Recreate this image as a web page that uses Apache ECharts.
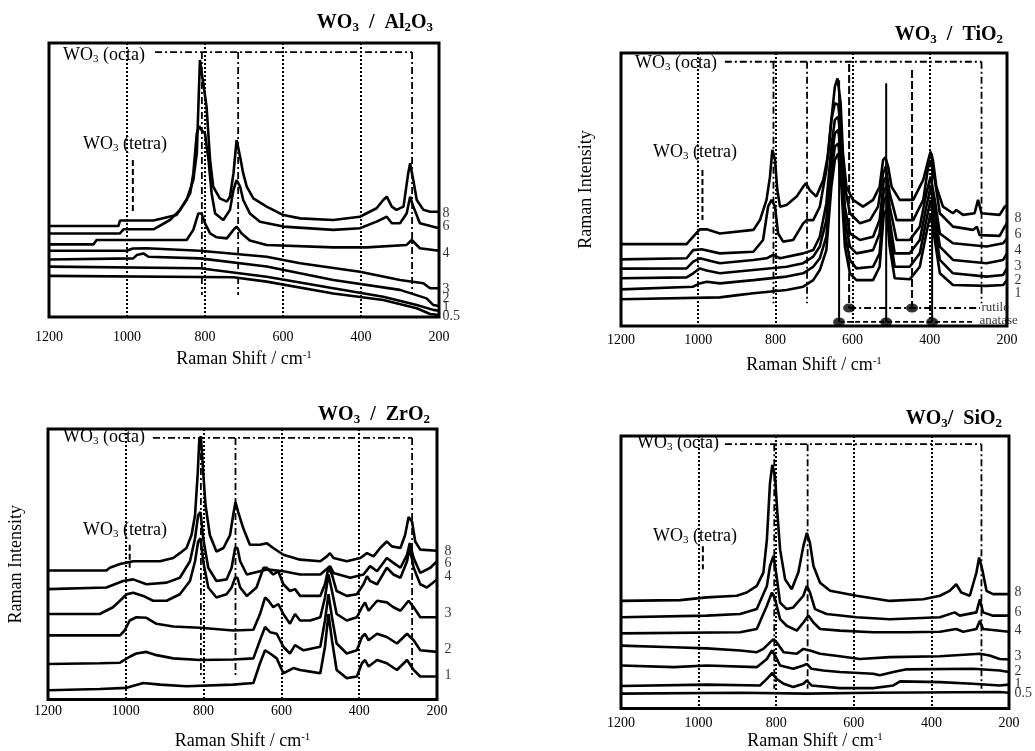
<!DOCTYPE html>
<html><head><meta charset="utf-8">
<script src="https://cdn.jsdelivr.net/npm/echarts@6/dist/echarts.min.js"></script>
<style>html,body{margin:0;padding:0;background:#fff}#c{width:1035px;height:751px}</style>
</head><body><div id="c"></div>
<script>
// ---------- data (Raman shift cm-1, relative intensity 0-100) ----------
const xTicks = [1200, 1000, 800, 600, 400, 200];

// WO3 / Al2O3
const al8 = [[1200,33.2],[1022,33.2],[1018,35.2],[932,35.2],[873,37.2],[847,42.7],[830,50.0],[821,59.7],[813,93.8],[809,94.4],[796,76.8],[787,57.3],[779,47.6],[762,43.3],[744,42.1],[736,43.9],[727,52.4],[719,64.6],[715,64.6],[710,58.5],[702,52.4],[693,47.6],[676,43.3],[642,40.3],[599,37.2],[556,36.0],[471,35.4],[403,36.6],[360,39.7],[343,42.7],[334,43.9],[321,40.3],[309,39.1],[291,40.3],[279,52.4],[274,56.1],[266,50.0],[257,42.7],[240,39.1],[223,38.4],[200,38.4]];
const al6 = [[1200,30.5],[1018,30.5],[1009,32.0],[932,32.0],[890,35.4],[864,39.1],[838,45.1],[830,52.4],[821,67.0],[815,69.7],[809,68.2],[800,67.0],[791,57.3],[783,45.1],[774,37.8],[753,35.4],[736,39.1],[727,46.4],[719,50.0],[710,47.6],[702,42.7],[685,37.8],[659,34.8],[599,33.0],[471,31.8],[403,32.4],[360,34.8],[334,36.6],[321,34.2],[300,34.2],[283,37.8],[274,43.9],[266,40.3],[249,34.2],[200,32.4]];
const al4 = [[1200,26.5],[1086,26.5],[1078,28.1],[847,28.1],[830,31.8],[817,37.8],[809,37.8],[800,34.2],[787,30.5],[770,29.1],[744,28.7],[727,31.8],[719,33.0],[706,30.5],[685,27.9],[642,26.3],[471,25.4],[385,25.4],[283,26.3],[270,28.1],[249,25.1],[200,24.2]];
const al3 = [[1200,24.2],[1001,24.2],[985,25.0],[950,25.1],[813,24.2],[642,22.0],[556,19.6],[403,16.5],[300,13.5],[240,12.3],[223,10.5],[200,10.5]];
const al2 = [[1200,21.0],[984,21.4],[975,22.6],[958,23.2],[945,22.0],[813,21.4],[642,18.4],[471,13.5],[300,9.9],[232,6.8],[215,4.4],[200,4.0]];
const al1 = [[1200,18.4],[813,17.8],[642,14.7],[471,10.5],[343,7.4],[257,4.4],[215,2.6],[200,2.3]];
const al05 = [[1200,15.0],[727,14.5],[642,12.9],[471,8.6],[343,6.2],[257,3.2],[223,1.1],[200,0.7]];
const alLabels = ['8','6','4','3','2','1','0.5'];
const alLabelY = [38.0, 33.2, 23.4, 10.2, 6.9, 3.6, 0.4];
const alOctaH = [[928,96.7],[269,96.7]];
const alOctaV = [808, 715, 269];
const alOctaRange = [96.7, 8.0];
const alTetraV = [985];
const alTetraRange = [57.3, 38.4];

// WO3 / TiO2
const ti8 = [[1200,30.0],[1030,30.0],[1013,32.7],[996,35.4],[978,35.4],[944,33.9],[857,35.2],[840,38.8],[823,46.2],[814,54.7],[808,64.5],[801,60.8],[795,49.8],[788,43.7],[771,44.3],[745,47.4],[728,51.0],[721,52.3],[711,49.8],[694,47.4],[676,53.5],[663,63.2],[655,75.5],[646,87.7],[639,90.7],[631,81.6],[625,63.2],[616,51.0],[599,46.2],[573,43.7],[547,46.2],[530,51.0],[521,60.8],[515,61.8],[508,58.4],[499,51.0],[478,46.2],[443,46.2],[417,53.5],[404,60.8],[398,63.9],[392,60.8],[383,51.0],[366,43.7],[340,41.3],[331,42.5],[314,40.7],[284,41.3],[275,46.2],[266,41.3],[219,40.7],[206,43.7],[200,44.3]];
const ti6 = [[1200,24.4],[1030,24.8],[1013,27.8],[991,28.1],[944,26.6],[857,27.2],[832,31.5],[819,43.7],[810,46.2],[801,43.7],[793,33.9],[780,30.9],[754,31.5],[728,37.6],[719,38.8],[702,38.8],[685,43.7],[668,57.1],[655,75.5],[646,81.6],[637,81.0],[629,69.4],[620,51.0],[607,41.3],[581,37.6],[555,38.8],[534,43.7],[521,55.9],[514,58.4],[504,48.6],[486,38.8],[443,38.8],[417,46.2],[404,58.4],[398,60.8],[387,53.5],[374,41.3],[340,36.4],[288,35.2],[278,36.4],[271,33.3],[219,33.0],[206,36.4],[200,37.6]];
const ti4 = [[1200,21.0],[1030,21.1],[1013,23.6],[996,24.8],[944,23.0],[857,24.2],[823,24.8],[806,26.0],[788,24.8],[728,26.6],[702,27.8],[685,32.7],[668,44.9],[655,65.7],[646,75.5],[637,76.7],[629,65.7],[620,43.7],[607,33.9],[581,31.5],[547,32.7],[530,38.8],[519,53.5],[512,54.7],[504,43.7],[486,31.5],[452,31.5],[426,36.4],[409,48.6],[398,54.7],[387,46.2],[374,33.9],[340,30.3],[253,29.1],[210,30.3],[200,32.1]];
const ti3 = [[1200,17.5],[1030,17.8],[1013,19.3],[996,21.1],[978,20.3],[944,19.3],[857,20.5],[771,21.7],[728,23.0],[702,25.4],[685,29.1],[668,38.8],[655,60.8],[646,70.6],[637,71.8],[629,60.8],[620,38.8],[607,29.1],[590,26.6],[547,27.8],[530,33.9],[519,49.8],[512,51.0],[504,38.8],[491,26.6],[452,26.6],[426,31.5],[409,43.7],[398,51.0],[387,41.3],[374,29.1],[340,24.2],[253,23.0],[210,24.2],[200,26.6]];
const ti2 = [[1200,13.4],[1013,14.4],[996,15.6],[978,16.2],[944,15.6],[857,16.8],[771,18.1],[728,19.3],[702,21.7],[685,24.8],[668,32.7],[655,55.9],[646,65.7],[637,66.9],[629,55.9],[620,33.9],[607,24.2],[590,21.1],[547,21.7],[530,26.6],[519,46.2],[512,47.4],[504,33.9],[491,21.7],[452,21.7],[426,26.6],[409,38.8],[398,46.2],[387,36.4],[374,24.2],[340,19.3],[253,18.1],[210,18.7],[200,21.1]];
const ti1 = [[1200,9.8],[944,10.5],[892,11.4],[857,12.0],[771,13.2],[728,14.4],[702,16.8],[685,20.5],[668,27.8],[655,51.0],[646,60.8],[637,63.2],[629,51.0],[620,29.1],[607,19.3],[590,16.8],[547,16.8],[530,21.7],[519,41.3],[512,42.5],[504,29.1],[491,17.5],[452,17.1],[426,21.7],[409,33.9],[398,41.3],[387,31.5],[374,19.3],[340,15.0],[253,14.7],[210,15.0],[200,16.8]];
const tiLabels = ['8','6','4','3','2','1'];
const tiLabelY = [39.6, 33.7, 27.8, 22.0, 16.8, 12.1];
const tiOctaH = [[931,96.8],[266,96.8]];
const tiOctaV = [805, 718, 266];
const tiOctaRange = [96.8, 8.3];
const tiTetraV = [989];
const tiTetraRange = [57.1, 38.8];
const tiRutile = [609, 446];
const tiRutileTop = [96.0, 93.8];
const tiRutileLevel = 6.6;
const tiRutileSpan = [609, 270];
const tiAnatase = [635, 513, 394];
const tiAnataseTop = [90.0, 88.9, 63.0];
const tiAnataseLevel = 1.5;
const tiAnataseSpan = [635, 283];

// WO3 / ZrO2
const zr8 = [[1200,47.7],[1050,47.7],[1041,48.7],[1015,50.1],[981,51.1],[912,51.1],[878,52.3],[861,54.1],[844,56.0],[831,60.8],[822,68.1],[815,83.9],[811,96.1],[807,97.3],[801,83.9],[795,71.8],[784,60.8],[767,54.7],[749,56.0],[732,60.8],[724,68.1],[718,73.0],[711,69.3],[698,63.3],[681,57.2],[655,57.2],[638,57.8],[621,56.0],[595,53.5],[552,51.7],[500,51.1],[483,52.9],[475,54.1],[466,52.3],[432,51.1],[397,52.3],[380,54.1],[363,52.9],[346,56.0],[329,58.4],[316,56.6],[294,56.0],[282,60.8],[273,67.5],[264,65.7],[256,58.4],[243,55.4],[200,55.0]];
const zr6 = [[1200,40.8],[1050,41.4],[1007,43.8],[981,44.4],[947,42.6],[895,43.2],[861,45.0],[835,51.1],[822,59.6],[814,68.1],[808,69.3],[801,59.6],[788,48.7],[767,43.8],[741,44.4],[728,48.7],[719,56.0],[713,56.0],[706,51.1],[689,46.2],[655,47.4],[638,48.1],[595,47.4],[552,46.2],[500,46.2],[475,49.3],[466,46.8],[423,45.0],[389,46.2],[372,49.3],[354,47.4],[329,52.3],[312,50.5],[294,48.7],[277,53.5],[270,57.8],[260,52.3],[243,46.8],[217,48.7],[200,51.1]];
const zr4 = [[1200,31.6],[1067,31.6],[1033,34.1],[1015,36.5],[998,38.9],[981,39.5],[955,38.3],[930,36.5],[895,36.5],[861,38.9],[835,43.8],[822,51.1],[814,58.4],[808,59.6],[801,51.1],[788,41.4],[767,37.7],[741,38.9],[728,41.4],[719,45.0],[713,45.0],[706,41.4],[689,38.3],[664,41.4],[646,48.7],[638,48.7],[621,46.2],[608,47.4],[595,42.6],[578,40.1],[565,40.8],[552,38.3],[500,38.3],[488,42.6],[479,48.7],[470,46.2],[458,40.1],[432,38.3],[406,38.9],[389,42.6],[380,45.6],[372,43.8],[354,42.6],[329,48.7],[312,46.2],[294,45.0],[277,51.1],[270,56.0],[260,48.7],[243,42.6],[226,41.4],[200,44.4]];
const zr3 = [[1200,23.7],[1015,23.7],[1003,25.5],[990,29.2],[973,30.4],[947,30.2],[921,28.0],[878,27.0],[809,26.5],[724,25.5],[672,25.8],[655,31.6],[642,37.7],[633,36.5],[621,34.1],[608,35.3],[595,31.6],[578,28.0],[565,31.6],[552,29.2],[526,29.2],[500,30.4],[488,37.7],[479,46.2],[470,40.1],[458,31.6],[432,29.2],[406,30.4],[393,34.1],[385,35.9],[376,32.8],[354,36.5],[329,35.9],[312,34.1],[294,32.8],[273,36.5],[260,34.1],[243,30.4],[200,30.4]];
const zr2 = [[1200,13.1],[1067,13.4],[1015,13.6],[990,15.8],[973,17.0],[947,17.6],[921,16.4],[878,15.2],[809,14.6],[724,14.8],[672,15.2],[655,21.9],[642,26.8],[629,24.9],[612,24.3],[595,19.5],[578,17.0],[565,20.1],[543,18.2],[500,19.5],[488,29.2],[479,38.9],[470,30.4],[458,20.7],[432,17.0],[406,18.2],[393,23.1],[385,24.3],[376,21.9],[354,24.3],[329,23.1],[303,20.7],[277,24.3],[260,21.9],[243,18.2],[200,17.6]];
const zr1 = [[1200,3.4],[1067,3.9],[998,4.3],[955,6.1],[912,5.5],[844,4.9],[724,5.5],[672,6.1],[655,13.4],[642,18.2],[629,17.0],[612,15.2],[595,9.7],[569,11.6],[552,10.9],[526,10.3],[500,9.7],[488,19.5],[479,31.6],[470,21.9],[458,10.9],[432,7.9],[406,8.5],[393,13.4],[385,14.6],[376,12.2],[354,14.6],[329,13.4],[303,10.9],[277,14.6],[260,10.9],[243,8.5],[200,8.5]];
const zrLabels = ['8','6','4','3','2','1'];
const zrLabelY = [54.7, 50.4, 45.6, 31.8, 18.6, 8.8];
const zrOctaH = [[930,96.7],[264,96.7]];
const zrOctaV = [807, 718, 264];
const zrOctaRange = [96.7, 8.5];
const zrTetraV = [990];
const zrTetraRange = [57.2, 48.7];

// WO3 / SiO2
const si8 = [[1200,39.5],[1047,39.8],[979,40.8],[902,41.4],[876,42.6],[850,45.0],[833,49.9],[824,62.0],[816,82.7],[810,89.4],[803,85.2],[797,71.8],[790,58.4],[777,47.4],[760,43.8],[743,49.9],[730,59.6],[721,64.5],[713,60.8],[704,52.3],[687,46.2],[661,43.2],[593,41.4],[507,39.5],[421,40.1],[378,41.4],[353,43.2],[336,45.6],[323,42.6],[301,41.4],[284,49.9],[277,55.4],[269,51.1],[258,43.2],[241,42.0],[200,42.0]];
const si6 = [[1200,33.5],[979,34.1],[893,34.7],[850,36.5],[824,45.0],[816,52.3],[807,56.0],[799,48.7],[790,38.9],[773,36.5],[756,37.1],[730,41.4],[721,45.0],[713,42.6],[700,36.5],[670,34.7],[593,33.5],[507,32.8],[378,33.5],[340,35.3],[327,34.1],[284,35.3],[275,40.1],[267,35.3],[241,34.1],[200,34.1]];
const si4 = [[1200,27.6],[893,28.0],[850,29.2],[824,37.7],[811,42.6],[803,40.1],[790,32.8],[773,30.4],[747,28.6],[730,31.6],[717,34.1],[704,31.6],[687,29.2],[636,28.6],[550,28.0],[464,28.0],[378,28.2],[336,29.2],[318,28.2],[284,29.2],[275,32.2],[267,29.2],[200,28.2]];
const si3 = [[1200,23.1],[1064,22.5],[979,22.1],[893,21.3],[850,20.7],[833,21.9],[816,24.3],[807,25.5],[799,24.3],[781,20.7],[747,20.1],[730,21.9],[713,21.3],[687,20.1],[636,19.2],[584,18.2],[507,18.9],[378,19.2],[275,20.1],[250,19.5],[224,18.2],[200,18.0]];
const si2 = [[1200,15.8],[1064,15.2],[979,15.8],[850,15.2],[824,18.2],[811,21.3],[803,19.5],[790,15.8],[756,14.6],[730,15.8],[721,16.4],[709,14.6],[679,14.0],[636,13.4],[550,12.8],[533,12.2],[498,13.4],[464,14.4],[293,14.6],[224,14.0],[200,13.4]];
const si1 = [[1200,8.3],[979,8.8],[842,8.5],[824,10.9],[810,13.1],[799,10.9],[781,9.1],[756,7.9],[730,9.1],[721,10.3],[709,8.5],[636,7.5],[550,7.5],[498,8.5],[481,10.0],[378,9.7],[293,9.1],[224,8.5],[200,8.8]];
const si05 = [[1200,5.5],[893,5.8],[721,5.5],[550,5.8],[224,6.1],[200,5.8]];
const siLabels = ['8','6','4','3','2','1','0.5'];
const siLabelY = [42.7, 35.4, 28.8, 19.3, 13.5, 8.9, 5.5];
const siOctaH = [[932,97.0],[271,97.0]];
const siOctaV = [805, 719, 271];
const siOctaRange = [97.0, 7.3];
const siTetraV = [989];
const siTetraRange = [59.6, 51.1];

// ---------- chart ----------
const FONT = '"Liberation Serif","Times New Roman",serif';
const DASHDOT = [7, 3, 2, 3];
const chart = echarts.init(document.getElementById('c'), null, {renderer: 'canvas'});

const panels = [
  {grid: {left: 49, top: 43, width: 390, height: 274}, curves: [al8, al6, al4, al3, al2, al1, al05],
   labels: alLabels, labelY: alLabelY, octaH: alOctaH, octaV: alOctaV, octaRange: alOctaRange,
   tetraV: alTetraV, tetraRange: alTetraRange, labelMargin: 13, nameGap: 33, yName: '', labelDist: 3},
  {grid: {left: 621, top: 53, width: 386, height: 273}, curves: [ti8, ti6, ti4, ti3, ti2, ti1],
   labels: tiLabels, labelY: tiLabelY, octaH: tiOctaH, octaV: tiOctaV, octaRange: tiOctaRange,
   tetraV: tiTetraV, tetraRange: tiTetraRange, labelMargin: 7, nameGap: 30, yName: 'Raman Intensity', yNameGap: 26, labelDist: 7},
  {grid: {left: 48, top: 429, width: 389, height: 274}, curves: [zr8, zr6, zr4, zr3, zr2, zr1],
   labels: zrLabels, labelY: zrLabelY, octaH: zrOctaH, octaV: zrOctaV, octaRange: zrOctaRange,
   tetraV: zrTetraV, tetraRange: zrTetraRange, labelMargin: 5, nameGap: 32, yName: 'Raman Intensity', yNameGap: 23, labelDist: 7},
  {grid: {left: 621, top: 436, width: 388, height: 274}, curves: [si8, si6, si4, si3, si2, si1, si05],
   labels: siLabels, labelY: siLabelY, octaH: siOctaH, octaV: siOctaV, octaRange: siOctaRange,
   tetraV: siTetraV, tetraRange: siTetraRange, labelMargin: 8, nameGap: 22, yName: '', labelDist: 5}
];

const grids = [], xAxes = [], yAxes = [], series = [];
function seg(i, data, type, width) {
  return {type: 'line', xAxisIndex: i, yAxisIndex: i, data: data, symbol: 'none', silent: true,
    lineStyle: {color: '#000', width: width || 1.8, type: type}, z: 3};
}
panels.forEach((p, i) => {
  grids.push(Object.assign({show: true, borderColor: '#000', borderWidth: 3, backgroundColor: 'transparent'}, p.grid));
  xAxes.push({gridIndex: i, type: 'value', min: 200, max: 1200, interval: 200, inverse: true,
    axisLine: {show: false}, axisTick: {show: false},
    splitLine: {show: true, lineStyle: {color: '#000', width: 2, type: [2, 2]}},
    axisLabel: {margin: p.labelMargin, fontFamily: FONT, fontSize: 14, color: '#000', showMinLabel: true, showMaxLabel: true,
      formatter: v => xTicks.indexOf(v) >= 0 ? String(v) : ''},
    name: '{n|Raman Shift / cm}{p|-1}', nameLocation: 'middle', nameGap: p.nameGap,
    nameTextStyle: {rich: {n: {fontFamily: FONT, fontSize: 18, color: '#000'}, p: {fontFamily: FONT, fontSize: 11, color: '#000', padding: [0, 0, 8, 0]}}}
  });
  yAxes.push({gridIndex: i, type: 'value', min: 0, max: 100, show: true,
    axisLine: {show: false}, axisTick: {show: false}, axisLabel: {show: false}, splitLine: {show: false},
    name: p.yName, nameLocation: 'middle', nameGap: p.yNameGap || 20, nameRotate: 90,
    nameTextStyle: {fontFamily: FONT, fontSize: 18, color: '#000'}});
  // reference lines
  series.push(seg(i, p.octaH, DASHDOT, 1.8));
  p.octaV.forEach(x => series.push(seg(i, [[x, p.octaRange[0]], [x, p.octaRange[1]]], DASHDOT, 1.8)));
  p.tetraV.forEach(x => series.push(seg(i, [[x, p.tetraRange[0]], [x, p.tetraRange[1]]], [6, 3], 2)));
  // spectra
  p.curves.forEach(c => series.push({type: 'line', xAxisIndex: i, yAxisIndex: i, data: c, symbol: 'none', silent: true,
    lineStyle: {color: '#000', width: 2.6}, z: 4}));
  // curve labels
  series.push({type: 'scatter', xAxisIndex: i, yAxisIndex: i, symbolSize: 1, silent: true, clip: false,
    itemStyle: {color: 'rgba(0,0,0,0)'},
    data: p.labelY.map((y, k) => [200, y, p.labels[k]]),
    label: {show: true, position: 'right', distance: p.labelDist, formatter: q => q.value[2],
      fontFamily: FONT, fontSize: 14, color: '#000'}});
});

// rutile / anatase markers (TiO2 panel)
tiRutile.forEach((x, k) => series.push(seg(1, [[x, tiRutileTop[k]], [x, tiRutileLevel]], [8, 3], 2)));
tiAnatase.forEach((x, k) => series.push(seg(1, [[x, tiAnataseTop[k]], [x, tiAnataseLevel]], 'solid', 2)));
series.push(seg(1, [[tiRutileSpan[0], tiRutileLevel], [tiRutileSpan[1], tiRutileLevel]], DASHDOT, 1.8));
series.push(seg(1, [[tiAnataseSpan[0], tiAnataseLevel], [tiAnataseSpan[1], tiAnataseLevel]], [5, 3], 1.8));
series.push({type: 'scatter', xAxisIndex: 1, yAxisIndex: 1, symbol: 'circle', symbolSize: [12, 9], silent: true, clip: false, z: 5,
  itemStyle: {color: '#000'},
  data: tiRutile.map(x => [x, tiRutileLevel]).concat(tiAnatase.map(x => [x, tiAnataseLevel]))});
series.push({type: 'scatter', xAxisIndex: 1, yAxisIndex: 1, symbolSize: 1, silent: true, clip: false,
  itemStyle: {color: 'rgba(0,0,0,0)'},
  data: [[tiRutileSpan[1], tiRutileLevel, 'rutile'], [tiAnataseSpan[1] - 8, tiAnataseLevel + 0.5, 'anatase']],
  label: {show: true, position: 'right', distance: 1, formatter: q => q.value[2], fontFamily: FONT, fontSize: 13, color: '#000'}});

const richT = {
  b: {fontFamily: FONT, fontSize: 20, fontWeight: 'bold', color: '#000'},
  s: {fontFamily: FONT, fontSize: 13, fontWeight: 'bold', color: '#000', padding: [10, 0, 0, 0]}
};
const richL = {
  n: {fontFamily: FONT, fontSize: 18, fontWeight: 'normal', color: '#000'},
  s: {fontFamily: FONT, fontSize: 11, fontWeight: 'normal', color: '#000', padding: [9, 0, 0, 0]}
};
function ttl(text, pos, rich) {
  return Object.assign({text: text, padding: 0, textStyle: {rich: rich}}, pos);
}
const octa = '{n|WO}{s|3}{n| (octa)}';
const tetra = '{n|WO}{s|3}{n| (tetra)}';
const titles = [
  ttl('{b|WO}{s|3}{b|  /  Al}{s|2}{b|O}{s|3}', {right: 602, top: 11}, richT),
  ttl('{b|WO}{s|3}{b|  /  TiO}{s|2}', {right: 32, top: 23}, richT),
  ttl('{b|WO}{s|3}{b|  /  ZrO}{s|2}', {right: 605, top: 403}, richT),
  ttl('{b|WO}{s|3}{b|/  SiO}{s|2}', {right: 33, top: 407}, richT),
  ttl(octa, {left: 63, top: 45}, richL), ttl(tetra, {left: 83, top: 134}, richL),
  ttl(octa, {left: 635, top: 53}, richL), ttl(tetra, {left: 653, top: 142}, richL),
  ttl(octa, {left: 63, top: 427}, richL), ttl(tetra, {left: 83, top: 520}, richL),
  ttl(octa, {left: 637, top: 433}, richL), ttl(tetra, {left: 653, top: 526}, richL)
];

chart.setOption({
  backgroundColor: '#fff', animation: false,
  title: titles, grid: grids, xAxis: xAxes, yAxis: yAxes, series: series
});
</script></body></html>
